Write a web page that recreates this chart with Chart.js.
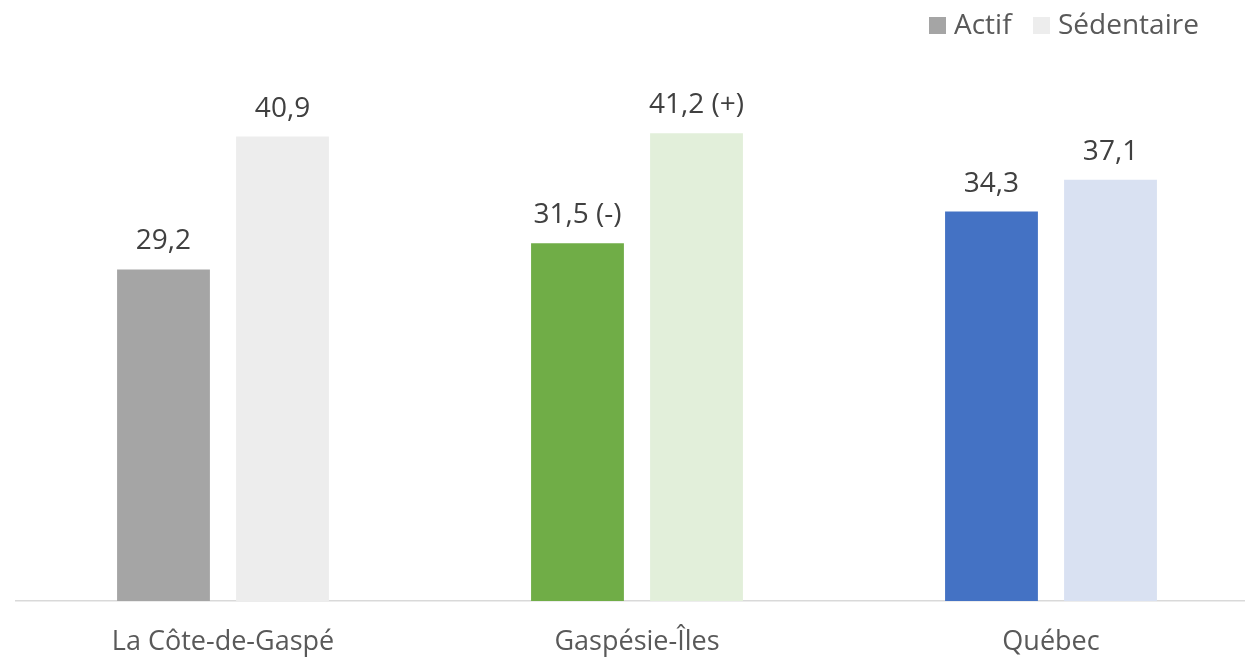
<!DOCTYPE html>
<html>
<head>
<meta charset="utf-8">
<script src="https://cdn.jsdelivr.net/npm/chart.js@4"></script>
<style>
html,body{margin:0;padding:0;background:#fff;overflow:hidden;}
#wrap{position:relative;width:1260px;height:657px;}
</style>
</head>
<body>
<div id="wrap"><canvas id="c"></canvas></div>
<script>
const categories = ["La Côte-de-Gaspé", "Gaspésie-Îles", "Québec"];
const seriesNames = ["Actif", "Sédentaire"];
const actifValues = [29.2, 31.5, 34.3];
const sedentaireValues = [40.9, 41.2, 37.1];
const actifNotes = ["", " (-)", ""];
const sedentaireNotes = ["", " (+)", ""];

const actifColors = ["#A5A5A5", "#70AD47", "#4472C4"];
const sedentaireColors = ["#EDEDED", "#E2EFDA", "#D9E1F2"];
const FONT = "'Open Sans', 'DejaVu Sans', sans-serif";

const dataLabelPlugin = {
  id: 'dataLabels',
  afterDatasetsDraw(chart) {
    const ctx = chart.ctx;
    ctx.save();
    ctx.font = "28px " + FONT;
    ctx.fillStyle = "#404040";
    ctx.textAlign = "center";
    ctx.textBaseline = "alphabetic";
    chart.data.datasets.forEach((ds, di) => {
      const meta = chart.getDatasetMeta(di);
      meta.data.forEach((bar, i) => {
        const txt = ds.data[i].toFixed(1).replace('.', ',') + ds.notes[i];
        ctx.fillText(txt, bar.x, bar.y - 20);
      });
    });
    ctx.restore();
  }
};

const legendPlugin = {
  id: 'customLegend',
  afterDraw(chart) {
    const ctx = chart.ctx;
    ctx.save();
    ctx.font = "28px " + FONT;
    ctx.textBaseline = "alphabetic";
    ctx.textAlign = "left";
    const items = [
      {x: 929, color: chart.data.datasets[0].backgroundColor[0], text: chart.data.datasets[0].label},
      {x: 1033, color: chart.data.datasets[1].backgroundColor[0], text: chart.data.datasets[1].label}
    ];
    items.forEach(it => {
      ctx.fillStyle = it.color;
      ctx.fillRect(it.x, 17, 17, 17);
      ctx.fillStyle = "#595959";
      ctx.fillText(it.text, it.x + 25, 34);
    });
    ctx.restore();
  }
};

new Chart(document.getElementById('c'), {
  type: 'bar',
  data: {
    labels: categories,
    datasets: [
      {label: seriesNames[0], data: actifValues, notes: actifNotes, backgroundColor: actifColors, borderWidth: 0},
      {label: seriesNames[1], data: sedentaireValues, notes: sedentaireNotes, backgroundColor: sedentaireColors, borderWidth: 0}
    ]
  },
  options: {
    responsive: true,
    maintainAspectRatio: false,
    animation: false,
    events: [],
    layout: {padding: {left: 16, right: 2, top: 90, bottom: 0}},
    datasets: {bar: {categoryPercentage: 0.575, barPercentage: 0.78}},
    plugins: {legend: {display: false}, tooltip: {enabled: false}},
    scales: {
      x: {
        grid: {display: false, drawTicks: false},
        border: {display: true, color: "#D9D9D9", width: 1.5},
        ticks: {color: "#595959", font: {family: FONT, size: 27, lineHeight: 1.15}, padding: 26},
        afterFit(scale) { scale.height = 56; }
      },
      y: {display: false, min: 0, max: 45}
    }
  },
  plugins: [dataLabelPlugin, legendPlugin]
});
</script>
</body>
</html>
